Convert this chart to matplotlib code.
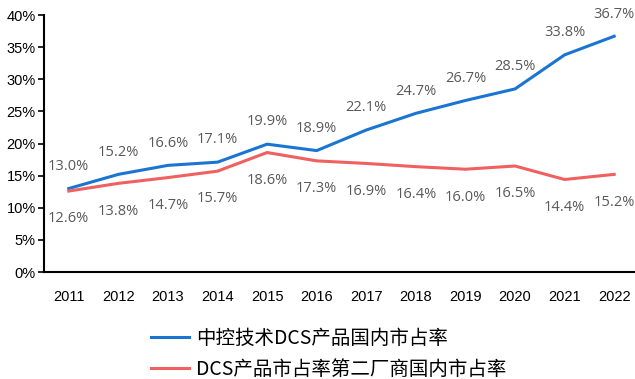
import matplotlib.pyplot as plt
from matplotlib.ticker import FuncFormatter

plt.rcParams['font.family'] = ['Liberation Sans Narrow', 'Liberation Sans', 'Noto Sans CJK SC', 'DejaVu Sans']

# -------- DATA --------
years = ['2011', '2012', '2013', '2014', '2015', '2016', '2017', '2018', '2019', '2020', '2021', '2022']
supcon_share = [13.0, 15.2, 16.6, 17.1, 19.9, 18.9, 22.1, 24.7, 26.7, 28.5, 33.8, 36.7]
second_share = [12.6, 13.8, 14.7, 15.7, 18.6, 17.3, 16.9, 16.4, 16.0, 16.5, 14.4, 15.2]
legend_names = ['中控技术DCS产品国内市占率', 'DCS产品市占率第二厂商国内市占率']

blue = '#1a75d2'
red = '#f06060'
label_gray = '#595959'

fig = plt.figure(figsize=(6.35, 3.79), dpi=100)
ax = fig.add_axes([0.0693, 0.2823, 0.9307, 0.678])

x = list(range(len(years)))
l1, = ax.plot(x, supcon_share, color=blue, lw=2.2, solid_joinstyle='miter')
l2, = ax.plot(x, second_share, color=red, lw=2.2, solid_joinstyle='miter')

# value labels: blue above, red below
for i in x:
    ax.annotate(f'{supcon_share[i]:.1f}%', (i, supcon_share[i]), xytext=(0, 16),
                textcoords='offset points', ha='center', va='center',
                fontsize=10.5, color=label_gray, family=['Open Sans', 'DejaVu Sans'])
    ax.annotate(f'{second_share[i]:.1f}%', (i, second_share[i]), xytext=(0, -20),
                textcoords='offset points', ha='center', va='center',
                fontsize=10.5, color=label_gray, family=['Open Sans', 'DejaVu Sans'])

ax.set_xlim(-0.5, 11.42)
ax.set_ylim(0, 40)
ax.set_yticks(range(0, 41, 5))
ax.yaxis.set_major_formatter(FuncFormatter(lambda v, p: f'{v:.0f}%'))
ax.set_xticks(x)
ax.set_xticklabels(years)

for s in ['top', 'right']:
    ax.spines[s].set_visible(False)
for s in ['left', 'bottom']:
    ax.spines[s].set_linewidth(1.5)
    ax.spines[s].set_color('black')

ax.tick_params(axis='y', length=4, width=1.2, labelsize=10.5, pad=2)
ax.tick_params(axis='x', length=0, labelsize=10.5, pad=13)

fig.legend([l1, l2], legend_names, loc='upper left', bbox_to_anchor=(0.238, 0.135),
           frameon=False, handlelength=1.96, handletextpad=0.36,
           labelspacing=0.52, borderpad=0, borderaxespad=0,
           prop={'family': ['Liberation Sans Narrow', 'Noto Sans CJK SC'], 'size': 14})

fig.savefig('out.png', dpi=100)
